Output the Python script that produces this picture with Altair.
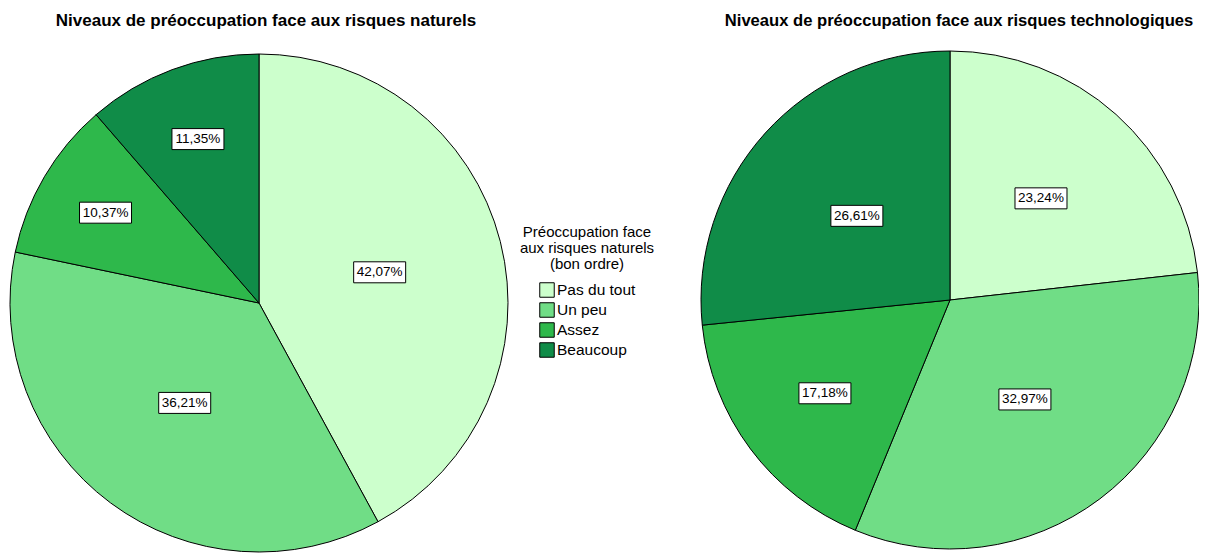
import altair as alt
import pandas as pd

categories = ["Pas du tout", "Un peu", "Assez", "Beaucoup"]
naturels = [42.07, 36.21, 10.37, 11.35]
technologiques = [23.24, 32.97, 17.18, 26.61]
colors = ["#ccffcc", "#70dd86", "#2eb84b", "#108c48"]
titles = ["Niveaux de préoccupation face aux risques naturels",
          "Niveaux de préoccupation face aux risques technologiques"]
legend_title = ["Préoccupation face", "aux risques naturels", "(bon ordre)"]

rows = []
for pie, vals in [("nat", naturels), ("tech", technologiques)]:
    for i, (c, v) in enumerate(zip(categories, vals)):
        rows.append(dict(pie=pie, cat=c, order=i, value=v,
                         label=f"{v:.2f}".replace(".", ",") + "%"))
df = pd.DataFrame(rows)

FONT = "Liberation Sans"
W, H = 1191, 548
geo = {"nat": (251, 295, 249), "tech": (942, 292, 249)}

legend = alt.Legend(
    title=legend_title, orient="none", legendX=512, legendY=217,
    titleFont=FONT, titleFontSize=15, titleFontWeight="normal", titleColor="black",
    titleAlign="center", titleAnchor="middle", titleLineHeight=16, titlePadding=10,
    labelFont=FONT, labelFontSize=15.5, labelColor="black", labelOffset=2,
    symbolType="square", symbolSize=210, symbolStrokeColor="black",
    symbolStrokeWidth=1, symbolOpacity=1, rowPadding=0,
)


def pie_layers(pie):
    cx, cy, R = geo[pie]
    base = alt.Chart(df).transform_filter(alt.datum.pie == pie)
    arc = base.mark_arc(stroke="black", strokeWidth=1, outerRadius=R).encode(
        theta=alt.Theta("value:Q", stack=True),
        color=alt.Color("cat:N", scale=alt.Scale(domain=categories, range=colors),
                        sort=categories, legend=legend),
        order=alt.Order("order:Q"),
        x=alt.value(cx), y=alt.value(cy),
    )
    lab = base.transform_window(
        cum="sum(value)", sort=[alt.SortField("order")], frame=[None, 0]
    ).transform_calculate(
        mid="(datum.cum - datum.value/2)/100*2*PI",
        rr=f"{R}*max(0.5, 0.85-0.013*datum.value)",
        lx=f"{cx}+datum.rr*sin(datum.mid)",
        ly=f"{cy}-datum.rr*cos(datum.mid)",
        bx1="datum.lx-26", bx2="datum.lx+26",
        by1="datum.ly-10.5", by2="datum.ly+10.5",
    )
    box = lab.mark_rect(fill="white", stroke="black", strokeWidth=1).encode(
        x=alt.X("bx1:Q", scale=None, axis=None), x2="bx2:Q",
        y=alt.Y("by1:Q", scale=None, axis=None), y2="by2:Q",
    )
    txt = lab.mark_text(font=FONT, fontSize=13.5, color="black", baseline="middle").encode(
        x=alt.X("lx:Q", scale=None, axis=None),
        y=alt.Y("ly:Q", scale=None, axis=None),
        text="label:N",
    )
    return [arc, box, txt]


def title_layer(t, x, size):
    return alt.Chart(pd.DataFrame({"t": [t]})).mark_text(
        font=FONT, fontSize=size, fontWeight="bold", color="black", baseline="middle"
    ).encode(text="t:N", x=alt.value(x), y=alt.value(13))


chart = alt.layer(
    *pie_layers("nat"), *pie_layers("tech"),
    title_layer(titles[0], 258, 17), title_layer(titles[1], 951, 16.6),
).resolve_scale(theta="independent").properties(
    width=W, height=H, padding=0, autosize=alt.AutoSizeParams(type="none")
).configure_view(stroke=None)

chart.save("out.html", embed_options={"renderer": "svg", "actions": False})
